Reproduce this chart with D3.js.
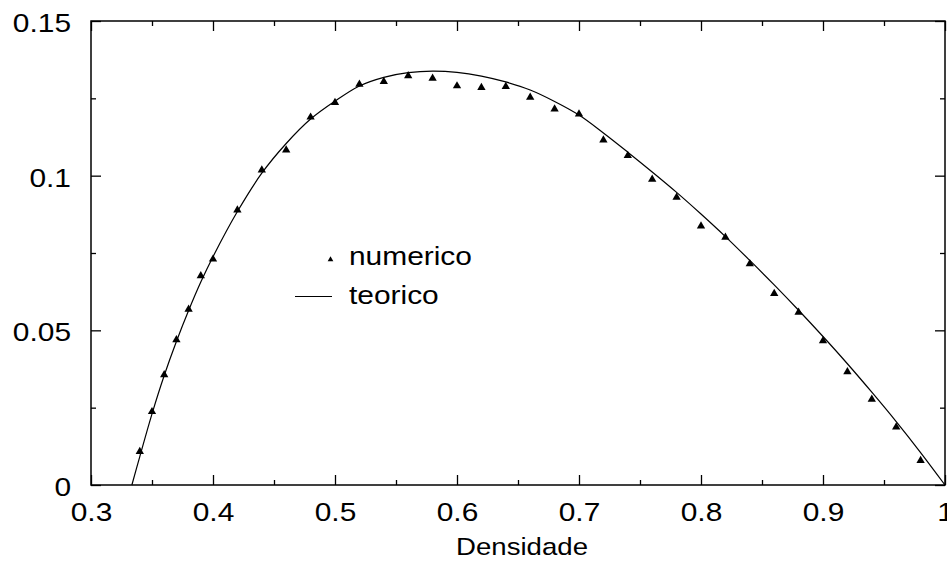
<!DOCTYPE html>
<html>
<head>
<meta charset="utf-8">
<script src="https://cdn.jsdelivr.net/npm/d3@7"></script>
<style>
  body { margin: 0; background: #fff; }
  text { font-family: "Liberation Sans", Arial, sans-serif; fill: #000; }
</style>
</head>
<body>
<div id="chart"></div>
<script>
    // numeric simulation points (triangles)
    const numDens = [0.34, 0.35, 0.36, 0.37, 0.38, 0.39, 0.40, 0.42, 0.44, 0.46, 0.48, 0.50,
        0.52, 0.54, 0.56, 0.58, 0.60, 0.62, 0.64, 0.66, 0.68, 0.70, 0.72, 0.74, 0.76, 0.78,
        0.80, 0.82, 0.84, 0.86, 0.88, 0.90, 0.92, 0.94, 0.96, 0.98];
    const numFlux = [0.0108, 0.0237, 0.0356, 0.0469, 0.0568, 0.0676, 0.0730, 0.0889, 0.1018,
        0.1083, 0.1189, 0.1236, 0.1295, 0.1304, 0.1323, 0.1315, 0.1290, 0.1285, 0.1288,
        0.1253, 0.1215, 0.1199, 0.1115, 0.1065, 0.0988, 0.0930, 0.0837, 0.0801, 0.0715,
        0.0619, 0.0558, 0.0466, 0.0366, 0.0277, 0.0187, 0.0079];

    // theoretical curve
    const teoDens = [0.3335, 0.34, 0.35, 0.36, 0.37, 0.38, 0.39, 0.40, 0.42, 0.44, 0.46, 0.48,
        0.50, 0.52, 0.54, 0.56, 0.58, 0.60, 0.62, 0.64, 0.66, 0.68, 0.70, 0.72, 0.74, 0.76,
        0.78, 0.80, 0.82, 0.84, 0.86, 0.88, 0.90, 0.92, 0.94, 0.96, 0.98, 1.0];
    const teoFlux = [0.0, 0.0092, 0.0230, 0.0354, 0.0464, 0.0564, 0.0656, 0.0738, 0.0884,
        0.1008, 0.1104, 0.1183, 0.1241, 0.1290, 0.1318, 0.1333, 0.1338, 0.1334, 0.1322,
        0.1303, 0.1277, 0.1240, 0.1196, 0.1138, 0.1076, 0.1012, 0.0946, 0.0876, 0.0803,
        0.0726, 0.0647, 0.0565, 0.0480, 0.0392, 0.0300, 0.0205, 0.0105, 0.0];

    const xMajor = [0.3, 0.4, 0.5, 0.6, 0.7, 0.8, 0.9, 1.0];
    const xMinor = [0.35, 0.45, 0.55, 0.65, 0.75, 0.85, 0.95];
    const yMajor = [0, 0.05, 0.1, 0.15];
    const yMinor = [0.025, 0.075, 0.125];

    const legendLabels = ["numerico", "teorico"];
    const xTitle = "Densidade";

    const width = 947, height = 565;
    const plotL = 91, plotR = 945, plotT = 21, plotB = 485;
    const stretch = 1.15; // the original lettering is a bit wide

    const svg = d3.select("#chart").append("svg")
        .attr("width", width)
        .attr("height", height);

    const x = d3.scaleLinear().domain([0.3, 1.0]).range([plotL, plotR]);
    const y = d3.scaleLinear().domain([0, 0.15]).range([plotB, plotT]);

    const fmt = d => String(+d.toFixed(3));

    // ticks on all four sides, pointing inward
    function drawAxis(axisFn, scale, major, minor, tx, ty, labels) {
        const gMaj = svg.append("g").attr("transform", `translate(${tx},${ty})`)
            .call(axisFn(scale).tickValues(major).tickSize(-10).tickFormat(labels ? fmt : ""));
        const gMin = svg.append("g").attr("transform", `translate(${tx},${ty})`)
            .call(axisFn(scale).tickValues(minor).tickSize(-5).tickFormat(""));
        [gMaj, gMin].forEach(g => {
            g.select(".domain").remove();
            g.selectAll(".tick line").attr("stroke", "#000").attr("stroke-width", 1.3);
        });
        return gMaj;
    }

    function styleText(sel, dx, dy, size) {
        sel.attr("x", 0).attr("y", 0).attr("dy", 0)
            .attr("transform", `translate(${dx},${dy}) scale(${stretch},1)`)
            .attr("font-size", size)
            .attr("font-family", "Liberation Sans, Arial, sans-serif")
            .attr("fill", "#000");
    }

    const gx = drawAxis(d3.axisBottom, x, xMajor, xMinor, 0, plotB, true);
    styleText(gx.selectAll(".tick text"), 0, 36, 26);
    drawAxis(d3.axisTop, x, xMajor, xMinor, 0, plotT, false);

    const gy = drawAxis(d3.axisLeft, y, yMajor, yMinor, plotL, 0, true);
    styleText(gy.selectAll(".tick text"), -20, 10.5, 26);
    drawAxis(d3.axisRight, y, yMajor, yMinor, plotR, 0, false);

    // frame
    svg.append("rect")
        .attr("x", plotL).attr("y", plotT)
        .attr("width", plotR - plotL).attr("height", plotB - plotT)
        .attr("fill", "none").attr("stroke", "#000").attr("stroke-width", 1.5);

    // theoretical line
    const teo = teoDens.map((d, i) => [d, teoFlux[i]]);
    svg.append("path")
        .datum(teo)
        .attr("fill", "none")
        .attr("stroke", "#000")
        .attr("stroke-width", 1.2)
        .attr("d", d3.line().x(d => x(d[0])).y(d => y(d[1])).curve(d3.curveCatmullRom));

    // numeric triangles
    const tri = d3.symbol().type(d3.symbolTriangle).size(30);
    svg.selectAll(".pt")
        .data(numDens.map((d, i) => [d, numFlux[i]]))
        .enter()
        .append("path")
        .attr("class", "pt")
        .attr("transform", d => `translate(${x(d[0])},${y(d[1])})`)
        .attr("d", tri)
        .attr("fill", "#000");

    // legend
    svg.append("path")
        .attr("transform", "translate(330.5,259.5)")
        .attr("d", d3.symbol().type(d3.symbolTriangle).size(14))
        .attr("fill", "#000");
    svg.append("line")
        .attr("x1", 295).attr("x2", 332)
        .attr("y1", 296.5).attr("y2", 296.5)
        .attr("stroke", "#000").attr("stroke-width", 1.2);
    svg.selectAll(".leg")
        .data(legendLabels)
        .enter()
        .append("text")
        .attr("class", "leg")
        .call(sel => sel.each(function (d, i) {
            styleText(d3.select(this), 349, 265 + i * 39, 26);
        }))
        .text(d => d);

    // x title
    const title = svg.append("text")
        .attr("text-anchor", "middle")
        .text(xTitle);
    styleText(title, 522, 555, 24);
</script>
</body>
</html>
